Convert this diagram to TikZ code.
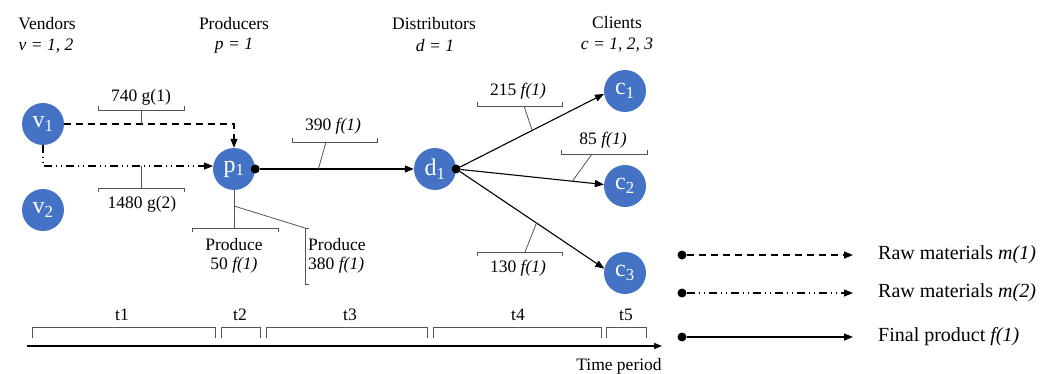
\documentclass[tikz,border=0pt]{standalone}
\usepackage{fontspec}
\setmainfont{Liberation Serif}
\usetikzlibrary{arrows.meta,calc}
\definecolor{nodeblue}{RGB}{68,114,196}
\definecolor{brk}{RGB}{85,85,85}

\begin{document}
\begin{tikzpicture}[x=1pt,y=-1pt,
  site/.style={circle,fill=nodeblue,minimum size=42pt,inner sep=0pt,text=white,
    font=\fontsize{24}{24}\selectfont},
  lbl/.style={font=\fontsize{17.5}{21}\selectfont,inner sep=0pt},
  keytext/.style={font=\fontsize{20}{24}\selectfont,inner sep=0pt,anchor=west},
  flow/.style={line width=1.1pt,-{Triangle[length=9pt,width=7pt]}},
  rawone/.style={flow,dash pattern=on 7pt off 5pt},
  rawtwo/.style={flow,dash pattern=on 8pt off 4pt on 1pt off 4pt on 1pt off 4pt},
  brace/.style={draw=brk,line width=0.8pt},
  timebrace/.style={draw=brk,line width=1pt},
  src/.style={circle,fill=black,inner sep=0pt,minimum size=9pt}
]
\useasboundingbox (0,0) rectangle (1057,374);

% column headings
\node[lbl] (hv) at (47,24) {Vendors};
\node[lbl] (hvi) at (46,46) {\textit{v = 1, 2}};
\node[lbl] (hp) at (234,24) {Producers};
\node[lbl] (hpi) at (234,46) {\textit{p = 1}};
\node[lbl] (hd) at (434,24) {Distributors};
\node[lbl] (hdi) at (435,46) {\textit{d = 1}};
\node[lbl] (hc) at (617,23) {Clients};
\node[lbl] (hci) at (617,45) {\textit{c = 1, 2, 3}};

% sites
\node[site] (v1) at (43,124) {v\textsubscript{1}};
\node[site] (v2) at (43,210) {v\textsubscript{2}};
\node[site] (p1) at (234,169) {p\textsubscript{1}};
\node[site] (d1) at (435,169) {d\textsubscript{1}};
\node[site] (c1) at (625,91) {c\textsubscript{1}};
\node[site] (c2) at (625,186) {c\textsubscript{2}};
\node[site] (c3) at (625,273) {c\textsubscript{3}};

\node[src] (p1o) at (p1.east) {};
\node[src] (d1o) at (d1.east) {};

% flows
\draw[rawone] (v1.east) -| coordinate[pos=0.55] (k740) (p1.north);
\draw[rawtwo] (v1.south) |- coordinate[pos=0.75] (k1480) (p1.172);
\draw[flow] (p1o) -- coordinate[pos=0.38] (k390) (d1);
\draw[flow] (d1o) -- coordinate[pos=0.5] (k215) (c1.188);
\draw[flow] (d1o) -- coordinate[pos=0.78] (k85) (c2.176);
\draw[flow] (d1o) -- coordinate[pos=0.53] (k130) (c3.168);

% quantity brackets
\draw[brace] (98,106) -- (98,110) -- (184,110) -- (184,106);
\draw[brace] (141,110) -- (141,124);
\node[lbl] (q740) at (141,97) {740 g(1)};

\draw[brace] (98,192) -- (98,188) -- (184,188) -- (184,192);
\draw[brace] (141,166) -- (141,188);
\node[lbl] (q1480) at (142,204) {1480 g(2)};

\draw[brace] (292,138) -- (292,142) -- (377,142) -- (377,138);
\draw[brace] (326,142) -- (k390);
\node[lbl] (q390) at (333,126) {390 \textit{f(1)}};

\draw[brace] (477,102) -- (477,106) -- (562,106) -- (562,102);
\draw[brace] (524,106) -- (k215);
\node[lbl] (q215) at (518,91) {215 \textit{f(1)}};

\draw[brace] (561,150) -- (561,154) -- (647,154) -- (647,150);
\draw[brace] (592,154) -- (k85);
\node[lbl] (q85) at (603,140) {85 \textit{f(1)}};

\draw[brace] (477,256) -- (477,252) -- (562,252) -- (562,256);
\draw[brace] (525,252) -- (k130);
\node[lbl] (q130) at (518,268) {130 \textit{f(1)}};

% production brackets
\draw[brace] (p1.south) -- (234,228);
\draw[brace] (192,232) -- (192,228) -- (278,228) -- (278,232);
\node[lbl] (pr50a) at (234,245) {Produce};
\node[lbl] (pr50b) at (234,265) {50 \textit{f(1)}};
\draw[brace] (234,206) -- (305,228);
\draw[brace] (309,228) -- (305,228) -- (305,284) -- (309,284);
\node[lbl,anchor=west] (pr380a) at (308,245) {Produce};
\node[lbl,anchor=west] (pr380b) at (308,265) {380 \textit{f(1)}};

% time axis
\coordinate (ax0) at (27,346);
\coordinate (ax1) at (662,346);
\draw[line width=1.2pt,-{Triangle[length=8pt,width=6pt]}] (ax0) -- (ax1);
\node[lbl] (tp) at (619,366) {Time period};
\draw[timebrace] (32,338) -- (32,327) -- (215,327) -- (215,338);
\draw[timebrace] (221,338) -- (221,327) -- (260,327) -- (260,338);
\draw[timebrace] (266,338) -- (266,327) -- (427,327) -- (427,338);
\draw[timebrace] (433,338) -- (433,327) -- (601,327) -- (601,338);
\draw[timebrace] (606,338) -- (606,327) -- (646,327) -- (646,338);
\node[lbl] (t1) at (122,315) {t1};
\node[lbl] (t2) at (240,315) {t2};
\node[lbl] (t3) at (350,315) {t3};
\node[lbl] (t4) at (518,315) {t4};
\node[lbl] (t5) at (626,315) {t5};

% legend
\node[src] (l1a) at (682,255) {};
\coordinate (l1b) at (853,255);
\draw[rawone] (l1a) -- (l1b);
\node[keytext] (l1t) at (878,255) {Raw materials \textit{m(1)}};
\node[src] (l2a) at (682,293) {};
\coordinate (l2b) at (853,293);
\draw[rawtwo] (l2a) -- (l2b);
\node[keytext] (l2t) at (878,293) {Raw materials \textit{m(2)}};
\node[src] (l3a) at (682,337) {};
\coordinate (l3b) at (853,337);
\draw[flow] (l3a) -- (l3b);
\node[keytext] (l3t) at (878,337) {Final product \textit{f(1)}};
\end{tikzpicture}
\end{document}
